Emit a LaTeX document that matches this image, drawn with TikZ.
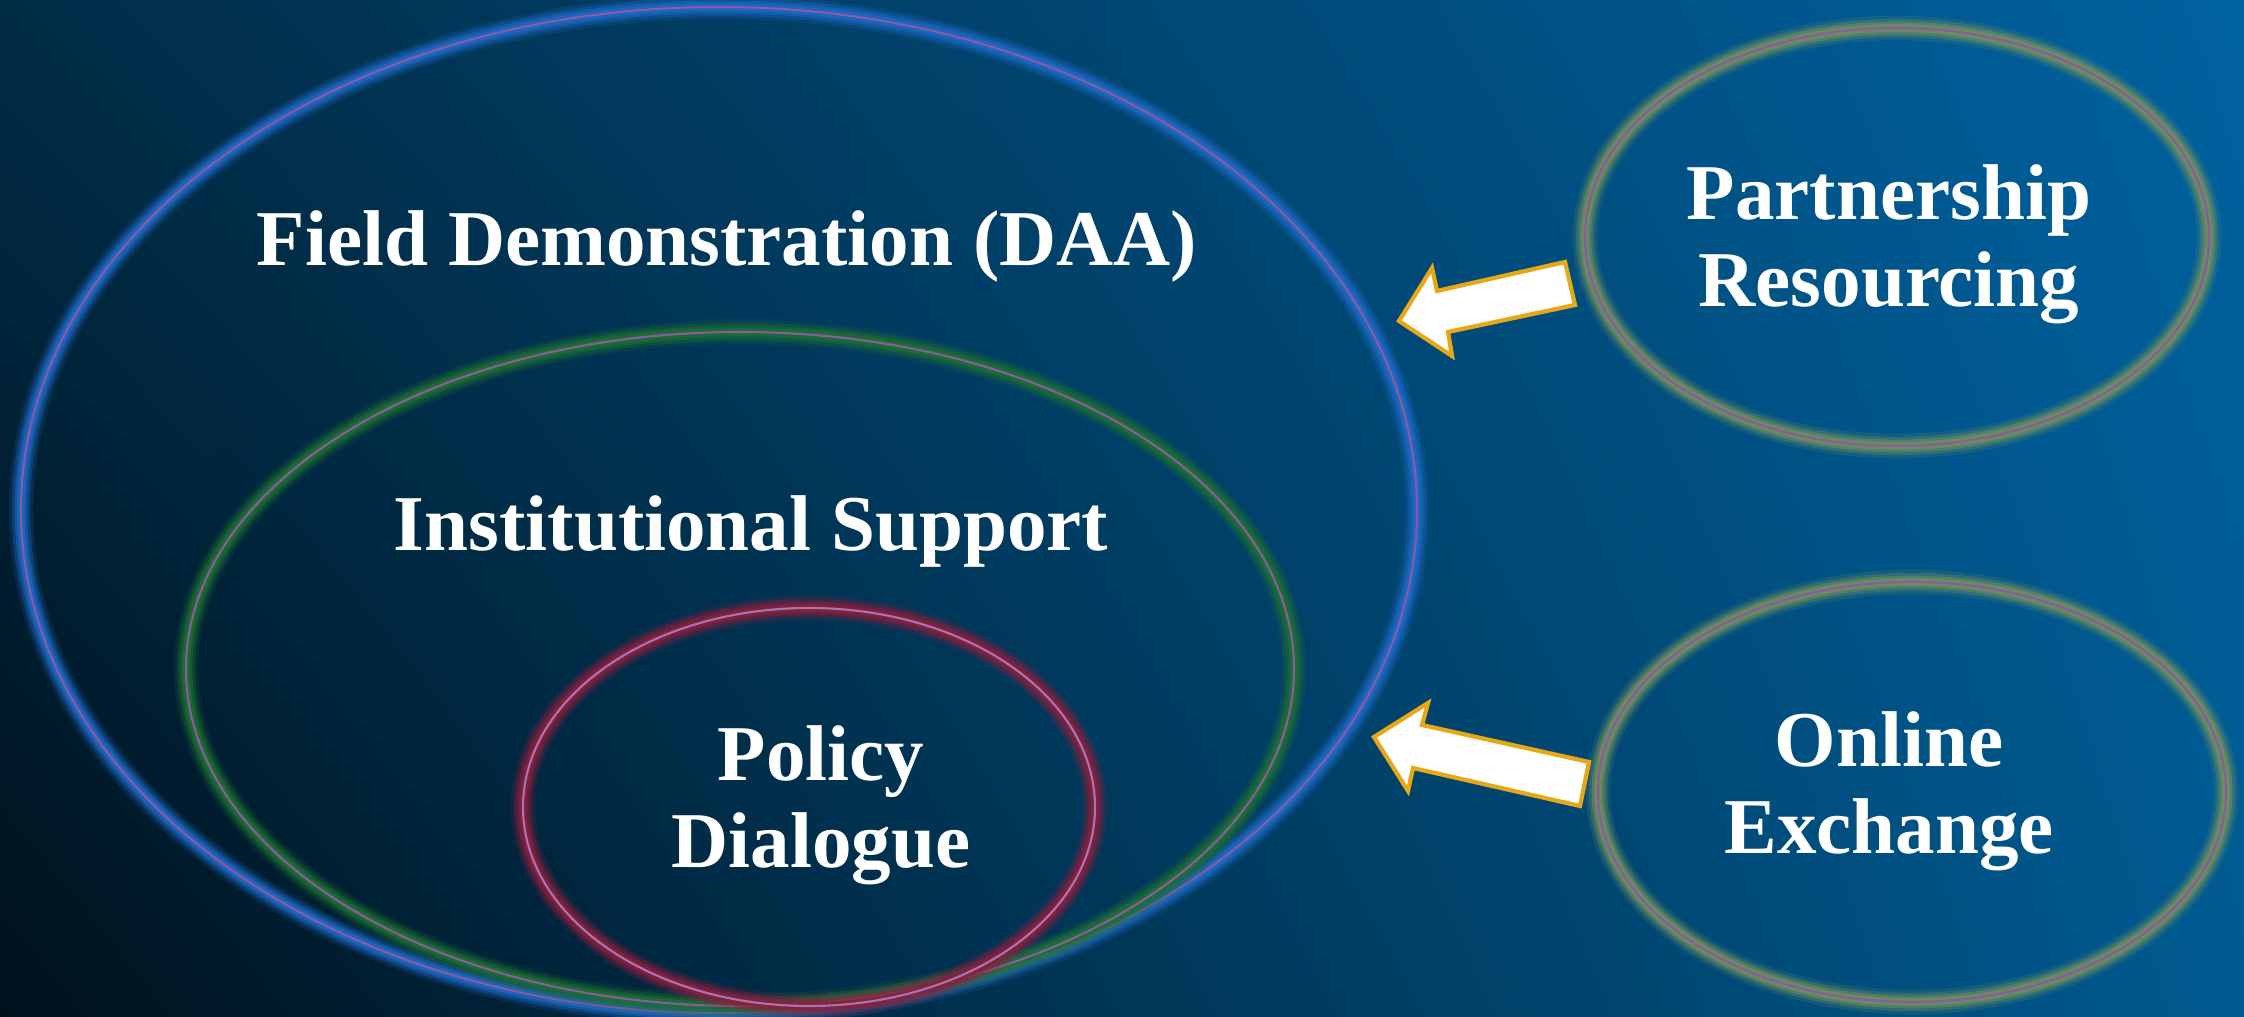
\documentclass[tikz,border=0pt]{standalone}
\usepackage{fontspec}
\setmainfont{Liberation Serif}
\usepackage{xcolor}
\usepackage{tikz}
\usetikzlibrary{shadings}

\definecolor{bgLL}{HTML}{00111C}
\definecolor{bgUL}{HTML}{012C47}
\definecolor{bgUR}{HTML}{0062A0}
\definecolor{bgLR}{HTML}{005A90}
\definecolor{glowblue}{HTML}{1E6AC8}
\definecolor{glowgreen}{HTML}{1E7032}
\definecolor{glowred}{HTML}{8C1E3C}
\definecolor{glowolive}{HTML}{73905F}
\definecolor{ringline}{HTML}{8C5AA0}
\definecolor{ringlight}{HTML}{A078B4}
\definecolor{arrowgold}{HTML}{E6A817}

% glowing ring: centre, radii, glow colour, line colour
\newcommand{\glowring}[4]{%
  \foreach \w/\o in {7pt/0.18,5.2pt/0.32,3.6pt/0.5,2.2pt/0.75}
    {\draw[#3, line width=\w, opacity=\o] #1 ellipse #2;}
  \draw[#4, line width=0.6pt] #1 ellipse #2;}

\tikzset{
  label/.style={text=white, align=center, inner sep=0pt,
    font=\fontsize{22.5}{24.8}\selectfont\bfseries},
  blockarrow/.style={fill=white, draw=arrowgold, line width=1.2pt, line join=miter}
}

\begin{document}
\begin{tikzpicture}
% background
\shade[lower left=bgLL, upper left=bgUL, upper right=bgUR, lower right=bgLR]
  (0,0) rectangle (22.44,10.17);
\useasboundingbox (0,0) rectangle (22.44,10.17);
% rings
\coordinate (field) at (7.19,5.07);
\coordinate (inst) at (7.40,3.48);
\coordinate (policy) at (8.09,2.10);
\coordinate (partner) at (18.97,7.80);
\coordinate (online) at (19.12,2.25);
\glowring{(field)}{(6.98 and 5.03)}{glowblue}{ringline}
\glowring{(inst)}{(5.54 and 3.37)}{glowgreen}{ringline}
\glowring{(policy)}{(2.86 and 1.99)}{glowred}{ringlight}
\glowring{(partner)}{(3.12 and 2.09)}{glowolive}{ringline}
\glowring{(online)}{(3.14 and 2.10)}{glowolive}{ringline}
% labels
\node[label, anchor=base] (fieldtext) at (7.27,7.51) {Field Demonstration (DAA)};
\node[label, anchor=base] (insttext) at (7.51,4.66) {Institutional Support};
\node[label] (policytext) at (8.21,2.12) {Policy\\Dialogue};
\node[label] (partnertext) at (18.89,7.73) {Partnership\\Resourcing};
\node[label] (onlinetext) at (18.89,2.26) {Online\\Exchange};
% arrows
\draw[blockarrow] (13.99,6.96) -- (14.32,7.49) -- (14.37,7.26) -- (15.65,7.55)
  -- (15.75,7.12) -- (14.48,6.85) -- (14.52,6.61) -- cycle;
\draw[blockarrow] (13.74,2.80) -- (14.28,3.14) -- (14.22,2.92) -- (15.89,2.55)
  -- (15.80,2.11) -- (14.13,2.49) -- (14.08,2.26) -- cycle;
\end{tikzpicture}
\end{document}
